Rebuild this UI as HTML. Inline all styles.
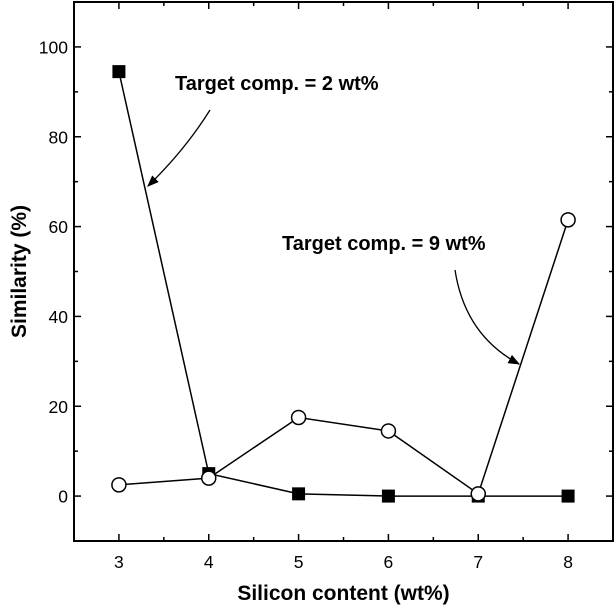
<!DOCTYPE html>
<html><head><meta charset="utf-8"><style>
body{margin:0;background:#fff}
svg{display:block;font-family:"Liberation Sans",Arial,sans-serif}
</style></head><body>
<svg id="c" width="616" height="609">
<defs><marker id="ah" viewBox="0 0 10 10" refX="9" refY="5" markerWidth="9" markerHeight="9" orient="auto"><path d="M0,1 L10,5 L0,9 z" fill="#000"/></marker></defs>
</svg>
<script>
const categories=[3,4,5,6,7,8];
const seriesSquare=[94.5,5,0.5,0,0,0];
const seriesCircle=[2.5,4,17.5,14.5,0.5,61.5];
const yTicks=[0,20,40,60,80,100];
const xTicks=[3,4,5,6,7,8];
const NS="http://www.w3.org/2000/svg";
const svg=document.getElementById('c');
const L=74,R=613,T=2,B=541;
const x=v=>L+(v-2.5)/6*(R-L);
const y=v=>B-(v+10)/120*(B-T);
function el(t,a,p){const e=document.createElementNS(NS,t);for(const k in a)e.setAttribute(k,a[k]);(p||svg).appendChild(e);return e;}
const frame=el('rect',{x:L,y:T,width:R-L,height:B-T,fill:'none',stroke:'#000','stroke-width':2});


for(let v=2.5;v<=8.5;v+=0.5){const big=Number.isInteger(v);const len=big?7:4;
el('line',{x1:x(v),x2:x(v),y1:B,y2:B-len,stroke:'#000','stroke-width':1.5});
el('line',{x1:x(v),x2:x(v),y1:T,y2:T+len,stroke:'#000','stroke-width':1.5});}
for(let v=-10;v<=110;v+=10){const big=v%20===0;const len=big?7:4;
el('line',{x1:L,x2:L+len,y1:y(v),y2:y(v),stroke:'#000','stroke-width':1.5});
el('line',{x1:R,x2:R-len,y1:y(v),y2:y(v),stroke:'#000','stroke-width':1.5});}
xTicks.forEach(v=>{const t=el('text',{x:x(v),y:B+27,'text-anchor':'middle','font-size':17.5});t.textContent=v;

});
yTicks.forEach(v=>{const t=el('text',{x:L-6,y:y(v)+6.5,'text-anchor':'end','font-size':17.5});t.textContent=v;

});
const xt=el('text',{x:(L+R)/2,y:600,'text-anchor':'middle','font-size':21,'font-weight':'bold'});xt.textContent='Silicon content (wt%)';


const yt=el('text',{x:0,y:0,'text-anchor':'middle','font-size':21,'font-weight':'bold',transform:`translate(26,${(T+B)/2}) rotate(-90)`});yt.textContent='Similarity (%)';


function line(vals,name){const p=el('polyline',{points:vals.map((v,i)=>x(categories[i])+','+y(v)).join(' '),fill:'none',stroke:'#000','stroke-width':1.5});

}
line(seriesSquare,'series-2wt-line');
line(seriesCircle,'series-9wt-line');
seriesSquare.forEach((v,i)=>{const r=el('rect',{x:x(categories[i])-6.5,y:y(v)-6.5,width:13,height:13,fill:'#000'});

});
seriesCircle.forEach((v,i)=>{const c=el('circle',{cx:x(categories[i]),cy:y(v),r:7,fill:'#fff',stroke:'#000','stroke-width':1.5});

});
const a1=el('text',{x:175,y:90,'font-size':20,'font-weight':'bold'});a1.textContent='Target comp. = 2 wt%';


const a2=el('text',{x:282,y:250,'font-size':20,'font-weight':'bold'});a2.textContent='Target comp. = 9 wt%';


const p1=el('path',{d:'M210,110 Q185,150 148,186',fill:'none',stroke:'#000','stroke-width':1.3,'marker-end':'url(#ah)'});


const p2=el('path',{d:'M455,270 Q465,335 519,364',fill:'none',stroke:'#000','stroke-width':1.3,'marker-end':'url(#ah)'});


</script>
</body></html>
